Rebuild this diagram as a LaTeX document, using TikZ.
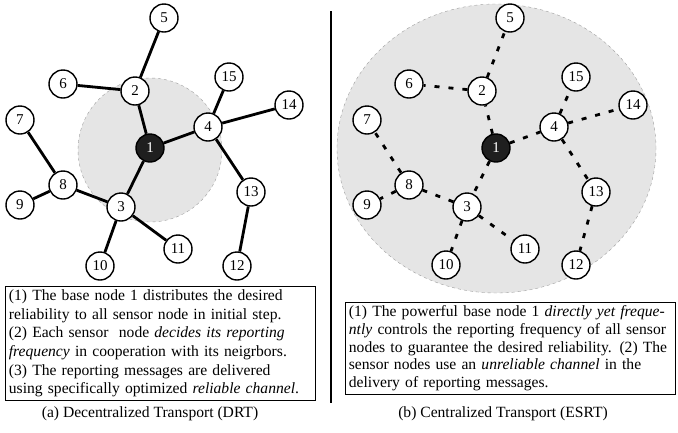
\documentclass[tikz,border=0pt]{standalone}
\usepackage{fontspec}
\setmainfont{Liberation Serif}
\definecolor{zone}{gray}{0.9}
\definecolor{zoneedge}{gray}{0.62}
\tikzset{
  sensor/.style={circle,draw,line width=1.4pt,fill=white,minimum size=28pt,inner sep=0pt,
    font=\fontsize{15}{15}\selectfont},
  sink/.style={sensor,fill=black!88,text=white},
  link/.style={line width=2.8pt},
  lossy/.style={line width=2.8pt,dash pattern=on 5pt off 9pt},
  note/.style={draw,line width=0.8pt,align=left,anchor=north west,inner sep=3.5pt,
    font=\fontsize{15.6}{18.6}\selectfont},
  caption/.style={font=\fontsize{15.6}{18}\selectfont}
}
\begin{document}
\begin{tikzpicture}[x=1pt,y=-1pt]
\useasboundingbox (0,0) rectangle (678,432);
% reliability zones
\draw[zoneedge,dashed,fill=zone] (150,150) circle (72pt);
\draw[zoneedge,dashed,fill=zone] (496.5,148.5) ellipse [x radius=159.5pt,y radius=144.5pt];
% (a) decentralized
\node[sink]   (a1)  at (150,148) {1};
\node[sensor] (a2)  at (135,91)  {2};
\node[sensor] (a3)  at (121,207) {3};
\node[sensor] (a4)  at (208,127) {4};
\node[sensor] (a5)  at (164,18)  {5};
\node[sensor] (a6)  at (63,84)   {6};
\node[sensor] (a7)  at (20,120)  {7};
\node[sensor] (a8)  at (63,185)  {8};
\node[sensor] (a9)  at (20,205)  {9};
\node[sensor] (a10) at (100,266) {10};
\node[sensor] (a11) at (178,249) {11};
\node[sensor] (a12) at (237,266) {12};
\node[sensor] (a13) at (251,192) {13};
\node[sensor] (a14) at (289,105) {14};
\node[sensor] (a15) at (229,77)  {15};
\draw[link] (a1) -- (a2) (a1) -- (a3) (a1) -- (a4)
  (a2) -- (a5) (a2) -- (a6) (a4) -- (a15) (a4) -- (a14) (a4) -- (a13)
  (a13) -- (a12) (a3) -- (a8) (a3) -- (a10) (a3) -- (a11) (a8) -- (a7) (a8) -- (a9);
% (b) centralized
\node[sink]   (b1)  at (496,148) {1};
\node[sensor] (b2)  at (482,91)  {2};
\node[sensor] (b3)  at (467,207) {3};
\node[sensor] (b4)  at (554,127) {4};
\node[sensor] (b5)  at (510,18)  {5};
\node[sensor] (b6)  at (409,84)  {6};
\node[sensor] (b7)  at (367,120) {7};
\node[sensor] (b8)  at (409,185) {8};
\node[sensor] (b9)  at (367,205) {9};
\node[sensor] (b10) at (446,265) {10};
\node[sensor] (b11) at (525,249) {11};
\node[sensor] (b12) at (576,265) {12};
\node[sensor] (b13) at (596,192) {13};
\node[sensor] (b14) at (633,105) {14};
\node[sensor] (b15) at (576,77)  {15};
\draw[lossy] (b1) -- (b2) (b1) -- (b3) (b1) -- (b4)
  (b2) -- (b5) (b2) -- (b6) (b4) -- (b15) (b4) -- (b14) (b4) -- (b13)
  (b13) -- (b12) (b3) -- (b8) (b3) -- (b10) (b3) -- (b11) (b8) -- (b7) (b8) -- (b9);
% separator
\coordinate (septop) at (331,11);
\coordinate (sepbot) at (331,403);
\draw[line width=1.3pt] (septop) -- (sepbot);
% notes
\node[note,text width=303pt] (drtnote) at (5,286)
  {(1) The base node 1 distributes the desired\\
   reliability to all sensor node in initial step.\\
   (2) Each sensor~ node \textit{decides its reporting}\\
   \textit{frequency} in cooperation with its neigrbors.\\
   (3) The reporting messages are delivered\\
   using specifically optimized \textit{reliable channel}.};
\node[note,text width=323pt,font=\fontsize{15.6}{17.6}\selectfont] (esrtnote) at (345,302)
  {(1) The powerful base node 1 \textit{directly yet freque-}\\
   \textit{ntly} controls the reporting frequency of all sensor\\
   nodes to guarantee the desired reliability. (2) The\\
   sensor nodes use an \textit{unreliable channel} in the\\
   delivery of reporting messages.};
\node[caption] (drtcap)  at (150,414) {(a) Decentralized Transport (DRT)};
\node[caption] (esrtcap) at (503,414) {(b) Centralized Transport (ESRT)};
\end{tikzpicture}
\end{document}
